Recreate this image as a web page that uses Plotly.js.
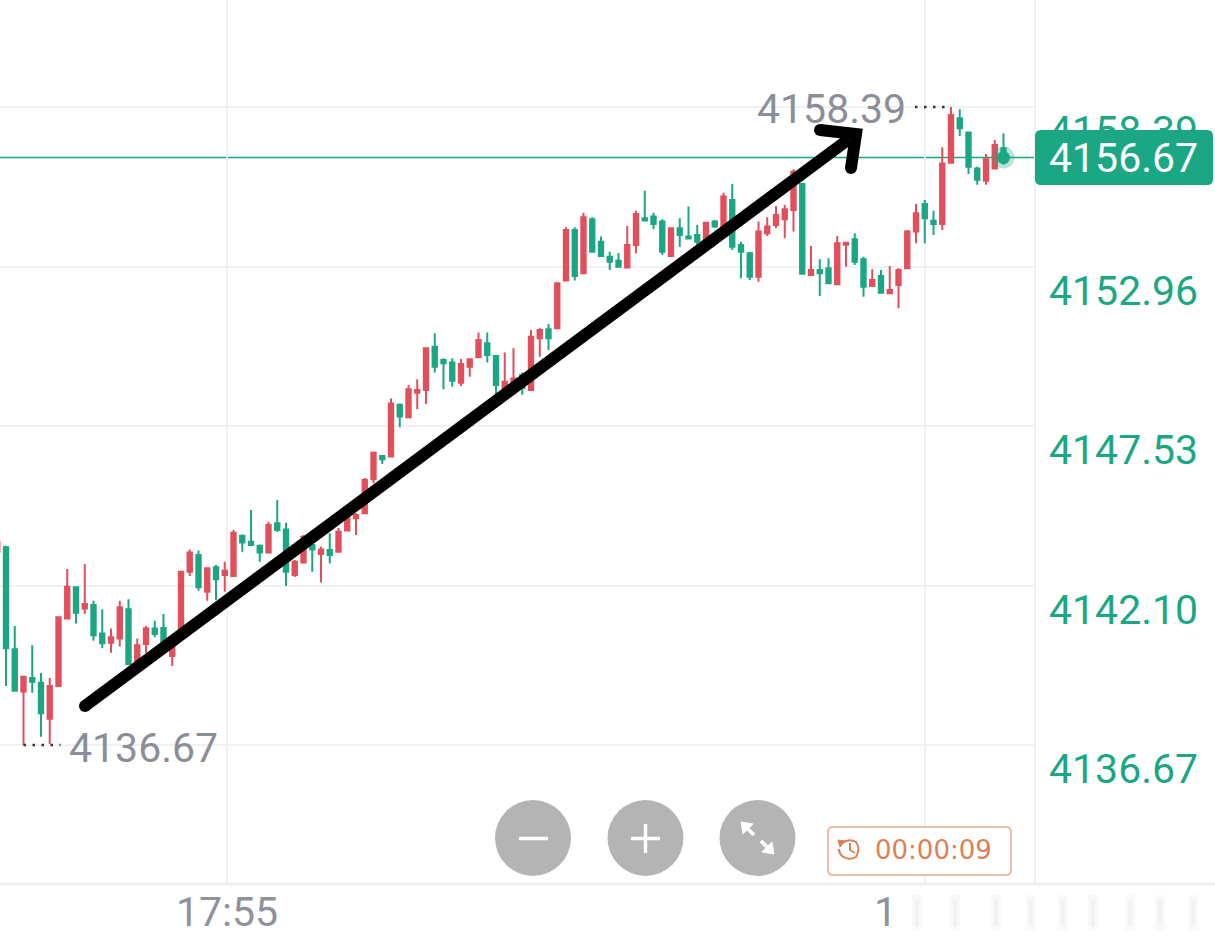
<!DOCTYPE html>
<html><head><meta charset="utf-8">
<script src="https://cdn.plot.ly/plotly-3.0.1.min.js"></script>
<style>html,body{margin:0;padding:0;background:#fff}#chart{width:1215px;height:942px}</style>
</head><body><div id="chart"></div>
<script>
// ---- data ----
const candleIndex = [-1,0,1,2,3,4,5,6,7,8,9,10,11,12,13,14,15,16,17,18,19,20,21,22,23,24,25,26,27,28,29,30,31,32,33,34,35,36,37,38,39,40,41,42,43,44,45,46,47,48,49,50,51,52,53,54,55,56,57,58,59,60,61,62,63,64,65,66,67,68,69,70,71,72,73,74,75,76,77,78,79,80,81,82,83,84,85,86,87,88,89,90,91,92,93,94,95,96,97,98,99,100,101,102,103,104,105,106,107,108,109,110,111,112,113,114];
const openPrices = [4143.25,4143.40,4139.93,4138.49,4138.95,4138.79,4137.56,4138.68,4140.98,4142.04,4141.32,4141.44,4140.47,4140.15,4140.30,4141.29,4139.51,4140.11,4140.64,4140.65,4139.70,4140.59,4142.57,4143.14,4141.89,4142.72,4142.46,4142.42,4143.79,4143.59,4143.45,4143.22,4144.22,4144.01,4142.46,4142.88,4143.48,4143.17,4143.31,4143.25,4143.97,4144.39,4144.56,4145.72,4146.51,4146.49,4148.25,4147.83,4148.66,4148.76,4150.23,4149.78,4149.69,4149.00,4149.55,4149.87,4150.35,4149.91,4148.81,4148.98,4149.27,4148.76,4150.52,4150.82,4150.86,4152.48,4154.20,4152.73,4154.57,4153.80,4153.29,4153.16,4152.93,4153.69,4154.60,4154.66,4154.49,4153.32,4154.26,4153.98,4154.03,4153.89,4154.49,4154.32,4155.22,4153.69,4153.41,4152.61,4154.09,4154.37,4154.57,4154.88,4155.77,4152.67,4152.84,4152.90,4152.36,4153.70,4153.89,4153.21,4152.30,4152.64,4152.05,4152.33,4152.90,4154.15,4155.09,4154.52,4154.41,4156.49,4158.01,4157.52,4156.30,4155.88,4156.30,4156.99];
const highPrices = [4143.72,4143.45,4140.72,4139.00,4140.07,4139.12,4138.95,4141.04,4142.66,4142.06,4142.83,4141.58,4141.29,4140.64,4141.58,4141.63,4140.30,4140.72,4140.90,4141.13,4140.10,4142.60,4143.33,4143.29,4142.72,4142.80,4142.91,4143.99,4143.84,4144.67,4143.50,4144.27,4145.01,4144.24,4142.97,4143.82,4143.65,4143.42,4143.88,4144.06,4144.50,4144.56,4145.76,4146.66,4146.53,4148.47,4148.30,4148.93,4149.12,4150.21,4150.69,4149.84,4149.84,4149.81,4149.80,4150.71,4150.71,4149.95,4150.03,4150.18,4149.35,4150.80,4150.86,4151.00,4152.41,4154.30,4154.30,4154.79,4154.64,4153.98,4153.46,4153.42,4154.34,4154.86,4155.54,4154.79,4154.57,4154.28,4154.60,4155.00,4154.37,4154.47,4154.54,4155.47,4155.77,4153.80,4153.46,4154.49,4154.64,4155.02,4155.05,4156.27,4155.79,4153.66,4153.21,4153.24,4154.00,4153.78,4154.09,4153.29,4152.87,4152.84,4152.98,4152.90,4154.20,4155.09,4155.22,4154.86,4157.02,4158.39,4158.31,4157.55,4156.36,4156.79,4157.27,4157.50];
const lowPrices = [4143.21,4138.68,4138.50,4136.67,4138.45,4136.95,4136.70,4138.66,4140.96,4140.81,4141.13,4140.22,4139.96,4139.81,4140.02,4139.41,4139.49,4139.81,4140.34,4140.10,4139.36,4140.50,4142.42,4141.92,4141.58,4141.61,4141.89,4142.40,4143.25,4143.46,4142.91,4143.20,4143.93,4142.08,4142.39,4142.85,4142.57,4142.20,4142.85,4143.22,4143.95,4143.82,4144.54,4145.58,4146.24,4146.47,4147.49,4147.81,4148.10,4148.28,4149.35,4148.78,4148.87,4148.89,4149.21,4149.85,4149.69,4148.60,4148.79,4148.93,4148.59,4148.74,4149.89,4150.12,4150.84,4152.46,4152.48,4152.70,4153.44,4153.30,4152.84,4152.92,4152.91,4153.41,4154.51,4154.23,4153.35,4153.30,4153.62,4153.88,4153.66,4153.87,4154.27,4154.30,4153.52,4152.56,4152.50,4152.44,4154.00,4154.27,4153.92,4154.15,4152.69,4152.65,4151.96,4152.37,4152.34,4152.95,4153.01,4151.93,4152.28,4152.05,4152.03,4151.54,4152.88,4153.75,4153.75,4154.03,4154.20,4156.47,4157.40,4156.11,4155.74,4155.74,4156.28,4156.42];
const closePrices = [4143.59,4139.96,4138.52,4138.99,4138.82,4137.75,4138.68,4141.02,4142.06,4141.17,4141.47,4140.41,4140.13,4140.34,4141.36,4139.43,4140.07,4140.64,4140.45,4140.19,4140.07,4142.57,4143.22,4142.04,4142.69,4142.31,4142.60,4143.90,4143.56,4143.48,4143.22,4144.16,4143.99,4142.57,4142.91,4143.76,4143.33,4143.33,4143.14,4143.93,4144.39,4144.50,4145.69,4146.62,4146.40,4148.30,4147.85,4148.78,4148.76,4150.18,4149.55,4149.67,4149.07,4149.64,4149.80,4150.46,4149.95,4148.93,4149.04,4149.15,4148.82,4150.57,4150.80,4150.52,4152.39,4154.20,4152.64,4154.64,4153.46,4153.32,4153.12,4152.95,4153.69,4154.75,4154.53,4154.41,4153.46,4154.26,4154.03,4153.91,4153.80,4154.45,4154.32,4155.34,4153.63,4153.46,4152.61,4154.15,4154.32,4154.71,4154.91,4156.19,4152.71,4152.84,4152.73,4152.39,4153.75,4153.77,4153.12,4152.27,4152.50,4152.07,4152.16,4152.84,4154.15,4154.77,4154.60,4154.41,4156.47,4158.12,4157.67,4156.36,4155.91,4156.61,4157.10,4156.67];
const priceTicks = [4136.67, 4142.10, 4147.53, 4152.96, 4158.39];
const priceTickLabels = ['4136.67', '4142.10', '4147.53', '4152.96', '4158.39'];
const timeTickPos = [25.257, 105.03];
const timeTickLabels = ['17:55', '18:00'];
const lastPrice = 4156.67;
const lastPriceLabel = '4156.67';
const timerLabel = '00:00:09';

// ---- helpers (plot area is 1035 x 884 px) ----
const PW = 1035, PH = 884;
const px = x => x / PW;
const py = y => 1 - y / PH;
const P = (x, y) => px(x) + ',' + py(y);
function rrect(x0, y0, x1, y1, r) {
  return 'M' + P(x0 + r, y0) + ' L' + P(x1 - r, y0) + ' Q' + P(x1, y0) + ' ' + P(x1, y0 + r) +
    ' L' + P(x1, y1 - r) + ' Q' + P(x1, y1) + ' ' + P(x1 - r, y1) +
    ' L' + P(x0 + r, y1) + ' Q' + P(x0, y1) + ' ' + P(x0, y1 - r) +
    ' L' + P(x0, y0 + r) + ' Q' + P(x0, y0) + ' ' + P(x0 + r, y0) + ' Z';
}
function circ(cx, cy, r, fill, line, lw) {
  return {type: 'circle', xref: 'paper', yref: 'paper', x0: px(cx - r), x1: px(cx + r), y0: py(cy + r), y1: py(cy - r),
    fillcolor: fill, line: {color: line || fill, width: lw || 0}, layer: 'above'};
}
function seg(x0, y0, x1, y1, color, w) {
  return {type: 'line', xref: 'paper', yref: 'paper', x0: px(x0), y0: py(y0), x1: px(x1), y1: py(y1),
    line: {color: color, width: w}, layer: 'above'};
}
function pathShape(d, fill, line, w) {
  return {type: 'path', xref: 'paper', yref: 'paper', path: d, fillcolor: fill, line: {color: line, width: w}, layer: 'above'};
}

const RED = '#e24f5c', GREEN = '#1ba784';
const maxP = Math.max(...highPrices), minP = Math.min(...lowPrices);
const maxIdx = candleIndex[highPrices.indexOf(maxP)];
const minIdx = candleIndex[lowPrices.indexOf(minP)];
const lastIdx = candleIndex[candleIndex.length - 1];
const pxPerCandle = 8.75;

const traces = [
  {type: 'candlestick', x: candleIndex, open: openPrices, high: highPrices, low: lowPrices, close: closePrices,
   increasing: {line: {color: RED, width: 2}, fillcolor: RED},
   decreasing: {line: {color: GREEN, width: 2}, fillcolor: GREEN},
   whiskerwidth: 0, hoverinfo: 'skip', showlegend: false},
  {type: 'scatter', mode: 'markers', x: [lastIdx], y: [lastPrice], marker: {size: 22, color: GREEN, opacity: 0.3}, hoverinfo: 'skip', cliponaxis: false},
  {type: 'scatter', mode: 'markers', x: [lastIdx], y: [lastPrice], marker: {size: 13, color: GREEN}, hoverinfo: 'skip', cliponaxis: false}
];

const shapes = [
  // current price line
  {type: 'line', xref: 'paper', yref: 'y', x0: 0, x1: 1, y0: lastPrice, y1: lastPrice, line: {color: GREEN, width: 1.5}, layer: 'below'},
  // right and bottom borders
  {type: 'line', xref: 'paper', yref: 'paper', x0: 1, x1: 1, y0: 0, y1: 1, line: {color: '#eef0f2', width: 2}, layer: 'below'},
  {type: 'line', xref: 'paper', yref: 'paper', x0: 0, x1: px(1215), y0: 0, y1: 0, line: {color: '#eef0f2', width: 3}, layer: 'above'},
  // max / min dotted markers
  {type: 'line', xref: 'x', yref: 'y', x0: maxIdx - 36 / pxPerCandle, x1: maxIdx - 1 / pxPerCandle, y0: maxP, y1: maxP, line: {color: '#333', width: 2.5, dash: '2.5px,6.5px'}, layer: 'above'},
  {type: 'line', xref: 'x', yref: 'y', x0: minIdx, x1: minIdx + 37 / pxPerCandle, y0: minP, y1: minP, line: {color: '#333', width: 2.5, dash: '2.5px,6.5px'}, layer: 'above'},
  // hand-drawn arrow
  seg(85, 706, 849, 139, '#000', 12),
  pathShape('M' + P(820, 130) + ' L' + P(856, 134) + ' L' + P(851, 168), 'rgba(0,0,0,0)', '#000', 12),
  circ(85, 706, 6, '#000'), circ(820, 130, 6, '#000'), circ(851, 168, 6, '#000'),
  // price box
  pathShape(rrect(1035, 130, 1213, 185, 6), GREEN, GREEN, 0),
  // zoom buttons
  circ(533, 838, 38, '#b4b4b4'), circ(645.5, 838, 38, '#b4b4b4'), circ(757.5, 838, 38, '#b4b4b4'),
  seg(519, 838.5, 548, 838.5, '#fff', 3.5),
  seg(631, 838.5, 660, 838.5, '#fff', 3.5), seg(645.5, 824, 645.5, 853, '#fff', 3.5),
  pathShape('M' + P(741, 822) + ' L' + P(753, 824) + ' L' + P(743, 834) + ' Z', '#fff', '#fff', 1),
  seg(746, 827, 754, 835, '#fff', 3.5),
  pathShape('M' + P(774, 854) + ' L' + P(762, 852) + ' L' + P(772, 842) + ' Z', '#fff', '#fff', 1),
  seg(761, 841, 769, 849, '#fff', 3.5),
  // timer box
  pathShape(rrect(828, 827, 1011, 875, 5), '#ffffff', '#eaa98b', 1.5),
  pathShape('M' + P(842, 843) + ' Q' + P(849, 838) + ' ' + P(856, 842) + ' Q' + P(861, 849) + ' ' + P(856, 857) +
            ' Q' + P(849, 861) + ' ' + P(842, 856) + ' Q' + P(839, 853) + ' ' + P(839, 849), 'rgba(0,0,0,0)', '#dd7f55', 2),
  pathShape('M' + P(838, 840) + ' L' + P(845, 841) + ' L' + P(840, 847) + ' Z', '#dd7f55', '#dd7f55', 1),
  pathShape('M' + P(850, 843) + ' L' + P(850, 850) + ' L' + P(855, 853), 'rgba(0,0,0,0)', '#dd7f55', 2),
  // watermark area over the second time label
  {type: 'rect', xref: 'paper', yref: 'paper', x0: px(892), x1: px(1215), y0: py(942), y1: py(888), fillcolor: '#ffffff', line: {width: 0}, layer: 'above'}
];
// faint watermark smudges
[917, 955, 996, 1031, 1063, 1093, 1130, 1160, 1193].forEach(function (x) {
  shapes.push({type: 'rect', xref: 'paper', yref: 'paper', x0: px(x - 5), x1: px(x + 5), y0: py(930), y1: py(895),
    fillcolor: 'rgba(170,170,170,0.07)', line: {width: 0}, layer: 'above'});
  shapes.push({type: 'rect', xref: 'paper', yref: 'paper', x0: px(x - 2), x1: px(x + 2), y0: py(926), y1: py(899),
    fillcolor: 'rgba(170,170,170,0.08)', line: {width: 0}, layer: 'above'});
});

const annotations = [
  {xref: 'paper', yref: 'y', x: px(1123), y: lastPrice, text: lastPriceLabel, showarrow: false, xanchor: 'center', yanchor: 'middle',
   font: {family: 'Roboto', size: 41, color: '#ffffff'}},
  {xref: 'x', yref: 'y', x: maxIdx, y: maxP, text: maxP.toFixed(2), showarrow: false, xanchor: 'right', yanchor: 'middle', xshift: -43, yshift: -2,
   font: {family: 'Roboto', size: 41, color: '#8a8e98'}},
  {xref: 'x', yref: 'y', x: minIdx, y: minP, text: minP.toFixed(2), showarrow: false, xanchor: 'left', yanchor: 'middle', xshift: 43, yshift: -3,
   font: {family: 'Roboto', size: 41, color: '#8a8e98'}},
  {xref: 'paper', yref: 'paper', x: px(933), y: py(850), text: timerLabel, showarrow: false, xanchor: 'center', yanchor: 'middle',
   font: {family: 'DejaVu Sans', size: 26, color: '#dd7f55'}}
];

const layout = {
  width: 1215, height: 942,
  margin: {l: 0, r: 180, t: 0, b: 58, pad: 0},
  paper_bgcolor: '#ffffff', plot_bgcolor: '#ffffff',
  showlegend: false, hovermode: false,
  boxgap: 0.5, boxgroupgap: 0,
  xaxis: {range: [-6 / 8.75, 1029 / 8.75], tickvals: timeTickPos, ticktext: timeTickLabels, showgrid: true,
          gridcolor: '#f0f1f3', gridwidth: 2, zeroline: false, showline: false, ticks: '',
          tickfont: {family: 'Roboto', size: 41, color: '#8e929b'}, rangeslider: {visible: false}, fixedrange: true, automargin: false},
  yaxis: {side: 'right', range: [4131.938, 4162.033], tickvals: priceTicks, ticktext: priceTickLabels, showgrid: true,
          gridcolor: '#f0f1f3', gridwidth: 2, zeroline: false, showline: false, ticks: '',
          tickfont: {family: 'Roboto', size: 41, color: GREEN}, ticklabelshift: 24, ticklabelstandoff: 13, fixedrange: true, automargin: false},
  shapes: shapes,
  annotations: annotations
};

Plotly.newPlot('chart', traces, layout, {displayModeBar: false, staticPlot: true});
</script>
</body></html>
